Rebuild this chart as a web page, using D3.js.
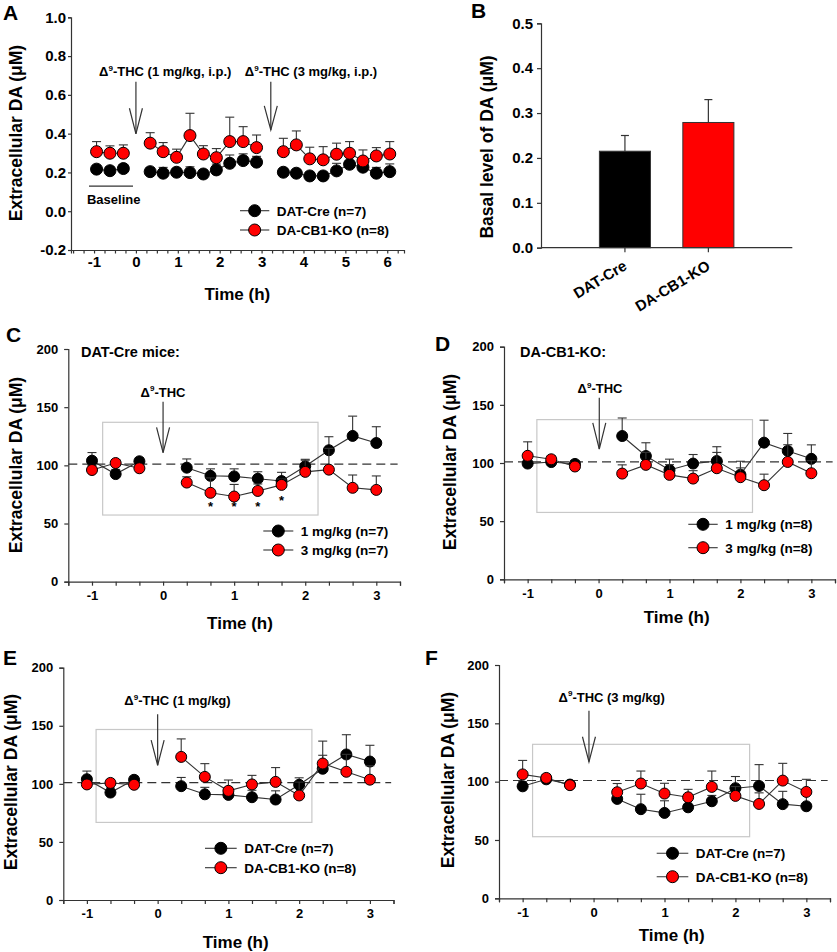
<!DOCTYPE html>
<html><head><meta charset="utf-8">
<script src="https://cdn.jsdelivr.net/npm/d3@7"></script>
<style>
body{margin:0;background:#fff}
svg{display:block}
text{font-family:"Liberation Sans",Arial,Helvetica,sans-serif;font-weight:bold;fill:#000}
</style>
</head><body>
<svg width="837" height="952"></svg>
<script>
// ---------------- DATA ----------------
// Panel A (µM), sample times in hours as placed on the axis
const aTimesBaseline = [-0.94, -0.62, -0.30];
const aTimesDose1 = [0.34, 0.65, 0.97, 1.29, 1.61, 1.92, 2.24, 2.56, 2.88];
const aTimesDose2 = [3.52, 3.83, 4.15, 4.47, 4.79, 5.10, 5.42, 5.74, 6.06];
const aDatCre = [0.217, 0.209, 0.220, 0.204, 0.196, 0.201, 0.199, 0.192, 0.213, 0.247, 0.261, 0.253,
                 0.201, 0.196, 0.182, 0.182, 0.208, 0.242, 0.227, 0.196, 0.204];
const aDatCreErr = [0.02, 0.02, 0.02, 0.02, 0.03, 0.02, 0.03, 0.02, 0.03, 0.043, 0.035, 0.03,
                    0.02, 0.02, 0.02, 0.02, 0.039, 0.035, 0.03, 0.03, 0.04];
const aKO = [0.307, 0.299, 0.299, 0.351, 0.307, 0.278, 0.390, 0.295, 0.276, 0.359, 0.359, 0.328,
             0.307, 0.342, 0.270, 0.265, 0.294, 0.299, 0.259, 0.285, 0.295];
const aKOErr = [0.052, 0.038, 0.043, 0.054, 0.047, 0.042, 0.115, 0.043, 0.047, 0.126, 0.077, 0.065,
                0.069, 0.072, 0.060, 0.068, 0.057, 0.060, 0.057, 0.043, 0.064];
const aSeriesNames = ["DAT-Cre (n=7)", "DA-CB1-KO (n=8)"];

// Panel B
const bCategories = ["DAT-Cre", "DA-CB1-KO"];
const bValues = [0.215, 0.279];
const bErrors = [0.035, 0.051];

// Panels C-F (% of baseline)
const tBaseline = [-1, -0.667, -0.333];
const tPost = [0.333, 0.667, 1, 1.333, 1.667, 2, 2.333, 2.667, 3];
const datCre1mg    = [104, 92.5, 103.5, 98, 91, 90.5, 88.5, 86.5, 99.2, 113, 125.3, 119.2];
const datCre1mgErr = [7, 4, 3, 7.5, 6, 6.5, 6, 7.5, 6, 11.6, 17, 14];
const datCre3mg    = [96, 102, 97.5, 85.2, 76.4, 73.2, 78, 83.2, 94.4, 96.3, 80.7, 78.9];
const datCre3mgErr = [4, 3, 3, 5, 12.8, 10.4, 6, 5, 10, 18.3, 11, 12];
const ko1mg    = [99.5, 100.8, 99.2, 123.2, 106, 94, 99.5, 101.7, 90, 117.5, 110.4, 103.6];
const ko1mgErr = [3, 3, 3, 15.5, 11.4, 9.3, 7.8, 12.3, 11.5, 19.3, 15, 12];
const ko3mg    = [106.2, 103.2, 97, 90.9, 98.4, 89.8, 86.6, 95.5, 87.8, 80.9, 100.9, 91.2];
const ko3mgErr = [12, 3, 3, 7.5, 10.7, 8.8, 6.8, 13.6, 8, 9.5, 14.8, 10.8];
const cStarTimes = [0.667, 1, 1.333, 1.667];
const cStarLevels = [66, 66, 66, 71];

// ---------------- DRAWING ----------------
const svg = d3.select("svg");
const AX = "#333";
const FONT = '"Liberation Sans",Arial,Helvetica,sans-serif';

function styleAxis(sel, fs) {
  sel.select(".domain").attr("stroke", AX).attr("stroke-width", 1.2);
  sel.selectAll(".tick line").attr("stroke", AX).attr("stroke-width", 1.2);
  sel.selectAll(".tick text").attr("fill", "#000")
    .style("font-size", fs + "px").style("font-family", FONT).style("font-weight", "bold");
}
function addText(g, x, y, txt, fs, anchor) {
  return g.append("text").attr("x", x).attr("y", y).attr("text-anchor", anchor || "start")
    .style("font-size", fs + "px").text(txt);
}
function yLabel(g, x, y, txt) {
  g.append("text").attr("transform", `translate(${x},${y}) rotate(-90)`)
    .attr("text-anchor", "middle").style("font-size", "17.5px").text(txt);
}
function thcLabel(g, x, y, rest, fs) {
  const t = g.append("text").attr("x", x).attr("y", y).attr("text-anchor", "middle").style("font-size", fs + "px");
  t.append("tspan").text("Δ");
  t.append("tspan").attr("dy", -fs * 0.42).style("font-size", (fs * 0.62) + "px").text("9");
  t.append("tspan").attr("dy", fs * 0.42).text(rest);
}
function arrow(g, px, pyTop, pyTip, pyHead, hw) {
  const a = g.append("g").attr("stroke", AX).attr("stroke-width", 1.2).attr("fill", "none");
  a.append("line").attr("x1", px).attr("x2", px).attr("y1", pyTop).attr("y2", pyTip);
  a.append("polyline").attr("points", `${px - hw},${pyHead} ${px},${pyTip} ${px + hw},${pyHead}`);
}
function drawSeries(g, x, y, segs, vals, errs, fill, r) {
  let idx = 0;
  const pts = [];
  segs.forEach((times, s) => times.forEach(t => { pts.push({t, v: vals[idx], e: errs[idx], s}); idx++; }));
  const eg = g.append("g").attr("stroke", AX).attr("stroke-width", 1.1);
  pts.forEach(p => {
    eg.append("line").attr("x1", x(p.t)).attr("x2", x(p.t)).attr("y1", y(p.v)).attr("y2", y(p.v + p.e));
    eg.append("line").attr("x1", x(p.t) - 4.5).attr("x2", x(p.t) + 4.5).attr("y1", y(p.v + p.e)).attr("y2", y(p.v + p.e));
  });
  const line = d3.line().x(p => x(p.t)).y(p => y(p.v));
  segs.forEach((_, s) => {
    g.append("path").datum(pts.filter(p => p.s === s)).attr("d", line)
      .attr("fill", "none").attr("stroke", AX).attr("stroke-width", 1.1);
  });
  g.selectAll(null).data(pts).enter().append("circle")
    .attr("cx", p => x(p.t)).attr("cy", p => y(p.v)).attr("r", r)
    .attr("fill", fill).attr("stroke", "#000").attr("stroke-width", 1);
}
function legend(g, lx0, lx1, rows, names, fs) {
  names.forEach((n, i) => {
    const yy = rows[i];
    g.append("line").attr("x1", lx0).attr("x2", lx1).attr("y1", yy).attr("y2", yy).attr("stroke", AX).attr("stroke-width", 1.1);
    g.append("circle").attr("cx", (lx0 + lx1) / 2).attr("cy", yy).attr("r", 6)
      .attr("fill", i === 0 ? "#000" : "#ff0000").attr("stroke", "#000");
    addText(g, lx1 + 7.5, yy + 5, n, fs);
  });
}

// ---------- Panel A ----------
{
  const g = svg.append("g");
  const x = d3.scaleLinear([-1.55, 6.4], [71, 404]);
  const y = d3.scaleLinear([-0.2, 1.0], [250, 17.3]);
  const xa = g.append("g").attr("transform", `translate(0,${y(-0.2)})`)
    .call(d3.axisBottom(x).tickValues(d3.range(-6, 26).map(k => k / 4)).tickSizeOuter(0).tickSize(3.5).tickPadding(3)
      .tickFormat(d => Number.isInteger(d) ? String(d) : ""));
  styleAxis(xa, 15);
  const ya = g.append("g").attr("transform", `translate(${x(-1.55)},0)`)
    .call(d3.axisLeft(y).tickValues([-0.2, 0, 0.2, 0.4, 0.6, 0.8, 1.0]).tickSizeOuter(0).tickSize(3).tickPadding(2)
      .tickFormat(d => d.toFixed(1)));
  styleAxis(ya, 15);
  const segs = [aTimesBaseline, aTimesDose1, aTimesDose2];
  drawSeries(g, x, y, segs, aDatCre, aDatCreErr, "#000", 6);
  drawSeries(g, x, y, segs, aKO, aKOErr, "#ff0000", 6);
  // baseline marker
  g.append("line").attr("x1", x(-1.12)).attr("x2", x(-0.07)).attr("y1", y(0.129)).attr("y2", y(0.129)).attr("stroke", AX).attr("stroke-width", 1.2);
  addText(g, x(-0.53), 203.5, "Baseline", 13, "middle");
  thcLabel(g, x(0.7), 76, "-THC (1 mg/kg, i.p.)", 13);
  thcLabel(g, x(4.18), 76, "-THC (3 mg/kg, i.p.)", 13);
  arrow(g, x(0), y(0.668), y(0.399), y(0.531), 6.5);
  arrow(g, x(3.22), y(0.668), y(0.419), y(0.543), 6.5);
  legend(g, 240, 269.3, [210.7, 230], aSeriesNames, 13.5);
  addText(g, 237.3, 300, "Time (h)", 17, "middle");
  yLabel(g, 21.5, 133, "Extracellular DA (μM)");
  addText(g, 3, 20, "A", 21);
}

// ---------- Panel B ----------
{
  const g = svg.append("g");
  const x = d3.scaleBand(bCategories, [541, 792.3]).paddingInner(0.388).paddingOuter(0.70);
  const y = d3.scaleLinear([0, 0.5], [247.7, 23.3]);
  // error bars
  bCategories.forEach((c, i) => {
    const cx = x(c) + x.bandwidth() / 2;
    g.append("line").attr("x1", cx).attr("x2", cx).attr("y1", y(bValues[i])).attr("y2", y(bValues[i] + bErrors[i])).attr("stroke", AX).attr("stroke-width", 1.2);
    g.append("line").attr("x1", cx - 4).attr("x2", cx + 4).attr("y1", y(bValues[i] + bErrors[i])).attr("y2", y(bValues[i] + bErrors[i])).attr("stroke", AX).attr("stroke-width", 1.2);
  });
  g.selectAll(null).data(bCategories).enter().append("rect")
    .attr("x", c => x(c)).attr("width", x.bandwidth())
    .attr("y", (c, i) => y(bValues[i])).attr("height", (c, i) => y(0) - y(bValues[i]))
    .attr("fill", (c, i) => i === 0 ? "#000" : "#ff0000").attr("stroke", "#333").attr("stroke-width", 1);
  const ya = g.append("g").attr("transform", `translate(541,0)`)
    .call(d3.axisLeft(y).tickValues([0, 0.1, 0.2, 0.3, 0.4, 0.5]).tickSizeOuter(0).tickSize(4).tickPadding(4)
      .tickFormat(d => d.toFixed(1)));
  styleAxis(ya, 15);
  const xa = g.append("g").attr("transform", `translate(0,${y(0)})`)
    .call(d3.axisBottom(x).tickSizeOuter(0).tickSize(4.5).tickFormat(""));
  styleAxis(xa, 15);
  xa.select(".domain").attr("d", `M541,0H792.3`);
  bCategories.forEach(c => {
    const cx = x(c) + x.bandwidth() / 2;
    g.append("text").attr("transform", `translate(${cx + 3},${y(0) + 21}) rotate(-31)`)
      .attr("text-anchor", "end").style("font-size", "15px").text(c);
  });
  yLabel(g, 493, 147, "Basal level of DA (μM)");
  addText(g, 471, 18, "B", 21);
}

// ---------- Panels C-F ----------
const panels = [
  {id: "C", xr: [68.3, 400], yr: [581.7, 349], s1: [datCre1mg, datCre1mgErr], s2: [datCre3mg, datCre3mgErr],
   names: ["1 mg/kg (n=7)", "3 mg/kg (n=7)"], leg: [263.3, 293.3, 531, 550], rect: [-0.85, 2.18, 57.3, 137],
   arrow: [0, 154.7, 110.9, 132.7], thc: ["-THC", 163, 396.7], sub: ["DAT-Cre mice:", 81, 357],
   ylab: [21.5, 465], time: [240, 629], letter: [6, 341.7]},
  {id: "D", xr: [504, 835], yr: [579.3, 346.7], s1: [ko1mg, ko1mgErr], s2: [ko3mg, ko3mgErr],
   names: ["1 mg/kg (n=8)", "3 mg/kg (n=8)"], leg: [688.3, 717.7, 524.3, 547.7], rect: [-0.87, 2.17, 57.5, 137.3],
   arrow: [0.01, 156, 112, 134.5], thc: ["-THC", 600, 393.3], sub: ["DA-CB1-KO:", 520, 357],
   ylab: [456, 462], time: [676.7, 623], letter: [435, 350.7]},
  {id: "E", xr: [63.3, 393.5], yr: [900, 667.7], s1: [datCre1mg, datCre1mgErr], s2: [ko1mg, ko1mgErr],
   names: ["DAT-Cre (n=7)", "DA-CB1-KO (n=8)"], leg: [205, 236.7, 848.3, 867.7], rect: [-0.87, 2.18, 66.8, 146.8],
   arrow: [0, 160, 116, 137.7], thc: ["-THC (1 mg/kg)", 177.5, 705], sub: null,
   ylab: [17, 782], time: [235.7, 948], letter: [3, 665]},
  {id: "F", xr: [499, 830], yr: [898.3, 665], s1: [datCre3mg, datCre3mgErr], s2: [ko3mg, ko3mgErr],
   names: ["DAT-Cre (n=7)", "DA-CB1-KO (n=8)"], leg: [656.7, 688.3, 853.3, 876.7], rect: [-0.86, 2.2, 52.8, 132],
   arrow: [-0.065, 160.8, 117, 138.5], thc: ["-THC (3 mg/kg)", 611.7, 701.7], sub: null,
   ylab: [454, 780], time: [671.7, 941], letter: [425, 665]}
];

panels.forEach(p => {
  const g = svg.append("g");
  const x = d3.scaleLinear([-4 / 3, 10 / 3], p.xr);
  const y = d3.scaleLinear([0, 200], p.yr);
  // gray box
  g.append("rect").attr("x", x(p.rect[0])).attr("width", x(p.rect[1]) - x(p.rect[0]))
    .attr("y", y(p.rect[3])).attr("height", y(p.rect[2]) - y(p.rect[3]))
    .attr("fill", "none").attr("stroke", "#c8c8c8").attr("stroke-width", 1.2);
  // dashed reference
  g.append("line").attr("x1", x(-4 / 3)).attr("x2", x(3.3)).attr("y1", y(101)).attr("y2", y(101))
    .attr("stroke", AX).attr("stroke-width", 1.2).attr("stroke-dasharray", "9,5");
  const xa = g.append("g").attr("transform", `translate(0,${y(0)})`)
    .call(d3.axisBottom(x).tickValues(d3.range(-4, 11).map(k => k / 3)).tickSizeOuter(0).tickSize(4).tickPadding(5)
      .tickFormat(d => Math.abs(d - Math.round(d)) < 1e-6 ? String(Math.round(d)) : ""));
  styleAxis(xa, 13);
  const ya = g.append("g").attr("transform", `translate(${p.xr[0]},0)`)
    .call(d3.axisLeft(y).tickValues([0, 50, 100, 150, 200]).tickSizeOuter(0).tickSize(4).tickPadding(6));
  styleAxis(ya, 13);
  const segs = [tBaseline, tPost];
  drawSeries(g, x, y, segs, p.s1[0], p.s1[1], "#000", 5.5);
  drawSeries(g, x, y, segs, p.s2[0], p.s2[1], "#ff0000", 5.5);
  if (p.id === "C") {
    cStarTimes.forEach((t, i) => addText(g, x(t), y(cStarLevels[i]) + 6, "*", 13, "middle"));
  }
  arrow(g, x(p.arrow[0]), y(p.arrow[1]), y(p.arrow[2]), y(p.arrow[3]), 6.5);
  thcLabel(g, p.thc[1], p.thc[2], p.thc[0], 13);
  if (p.sub) addText(g, p.sub[1], p.sub[2], p.sub[0], 14.5);
  legend(g, p.leg[0], p.leg[1], [p.leg[2], p.leg[3]], p.names, 13.5);
  addText(g, p.time[0], p.time[1], "Time (h)", 17, "middle");
  yLabel(g, p.ylab[0], p.ylab[1], "Extracellular DA (μM)");
  addText(g, p.letter[0], p.letter[1], p.id, 21);
});
</script>
</body></html>
